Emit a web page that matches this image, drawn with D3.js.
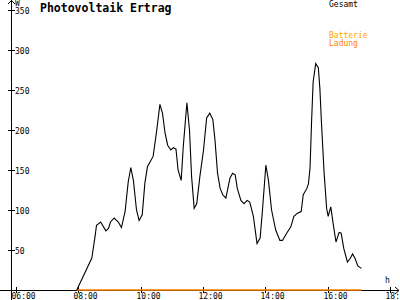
<!DOCTYPE html>
<html>
<head>
<meta charset="utf-8">
<script src="https://cdn.jsdelivr.net/npm/d3@7"></script>
<style>
  body { margin: 0; background: #fff; }
  svg { display: block; font-family: 'DejaVu Sans Mono', monospace; }
</style>
</head>
<body>
<svg id="chart" width="400" height="300"></svg>
<script>
// PV output for one day (W)
const times = ['07:57','08:26','08:32','08:35','08:43','08:53','08:58','09:02','09:09','09:17',
  '09:23','09:30','09:36','09:41','09:46','09:52','09:57','10:03','10:08','10:13',
  '10:18','10:24','10:31','10:37','10:42','10:47','10:52','10:58','11:03','11:08',
  '11:12','11:18','11:22','11:29','11:34','11:38','11:43','11:48','11:54','12:01',
  '12:07','12:13','12:19','12:23','12:28','12:33','12:38','12:44','12:52','12:57',
  '13:02','13:06','13:13','13:19','13:25','13:30','13:37','13:44','13:50','13:55',
  '14:01','14:06','14:12','14:20','14:28','14:33','14:41','14:49','14:55','15:02',
  '15:09','15:13','15:20','15:23','15:26','15:29','15:32','15:37','15:42','15:45',
  '15:48','15:53','15:58','16:01','16:06','16:11','16:16','16:22','16:26','16:31',
  '16:38','16:43','16:48','16:53','16:58','17:05'];
const gesamt = [0,40,66,81,85,74,77,85,90,85,
  78,98,135,153,137,100,87,94,133,154,
  160,167,200,232,221,196,181,175,178,176,
  150,137,179,234,200,142,102,108,142,175,
  215,221,213,188,146,127,119,115,140,146,
  144,127,112,108,112,110,92,58,65,104,
  156,137,100,75,62,62,71,79,92,96,
  98,119,127,133,152,210,260,283,278,252,
  210,148,102,92,104,81,60,72,71,52,
  35,39,45,39,30,27];
// battery charging stays at zero all day
const ladungTimes = ['07:57', '17:05'];
const ladung = [0, 0];

const xTicks = ['06:00','08:00','10:00','12:00','14:00','16:00','18:00'];
const yTicks = [50, 100, 150, 200, 250, 300, 350];

const svg = d3.select('#chart');
const parse = d3.timeParse('%H:%M');

const x = d3.scaleTime()
  .domain([parse('06:00'), parse('18:00')])
  .range([16, 390]);
const y = d3.scaleLinear()
  .domain([0, 350])
  .range([290, 10]);

const axisX = 11, axisY = 290;

// axes lines with arrows
const axes = svg.append('g')
  .attr('stroke', '#000')
  .attr('fill', 'none')
  .attr('shape-rendering', 'crispEdges');
axes.append('line').attr('x1', axisX + 0.5).attr('x2', axisX + 0.5).attr('y1', 0).attr('y2', 300);
axes.append('line').attr('x1', 0).attr('x2', 399).attr('y1', axisY + 0.5).attr('y2', axisY + 0.5);
axes.append('path').attr('shape-rendering', 'auto')
  .attr('d', `M${axisX - 3},4 L${axisX + 0.5},0.5 L${axisX + 4},4`);
axes.append('path').attr('shape-rendering', 'auto')
  .attr('d', `M395,${axisY - 3} L399,${axisY + 0.5} L395,${axisY + 4}`);

// y ticks
yTicks.forEach(v => {
  const yy = Math.round(y(v)) + 0.5;
  axes.append('line').attr('x1', axisX - 3).attr('x2', axisX + 4).attr('y1', yy).attr('y2', yy);
  svg.append('text')
    .attr('x', axisX + 4)
    .attr('y', yy + 3)
    .style('font-size', '8px')
    .text(v);
});

// x ticks
xTicks.forEach(t => {
  const xx = Math.round(x(parse(t))) + 0.5;
  axes.append('line').attr('x1', xx).attr('x2', xx).attr('y1', axisY - 3).attr('y2', axisY + 3);
  svg.append('text')
    .attr('x', xx - 5)
    .attr('y', 299)
    .style('font-size', '8px')
    .text(t);
});

svg.append('text').attr('x', 15).attr('y', 6).style('font-size', '8px').text('W');
svg.append('text').attr('x', 385).attr('y', 283).style('font-size', '8px').text('h');

// series
const line = d3.line()
  .x(d => x(d[0]))
  .y(d => y(d[1]));

svg.append('path')
  .datum(ladungTimes.map((t, i) => [parse(t), ladung[i]]))
  .attr('d', line)
  .attr('fill', 'none')
  .attr('stroke', '#ff8000')
  .attr('stroke-width', 1.6);

svg.append('path')
  .datum(times.map((t, i) => [parse(t), gesamt[i]]))
  .attr('d', line)
  .attr('fill', 'none')
  .attr('stroke', '#000')
  .attr('stroke-width', 1.1);

// title and legend
svg.append('text')
  .attr('x', 40)
  .attr('y', 12)
  .style('font-size', '11.5px')
  .style('font-weight', 'bold')
  .text('Photovoltaik Ertrag');

svg.append('text').attr('x', 329).attr('y', 7).style('font-size', '8px').attr('fill', '#000').text('Gesamt');
svg.append('text').attr('x', 329).attr('y', 38).style('font-size', '8px').attr('fill', '#ffa500').text('Batterie');
svg.append('text').attr('x', 329).attr('y', 46).style('font-size', '8px').attr('fill', '#ff8000').text('Ladung');
</script>
</body>
</html>
